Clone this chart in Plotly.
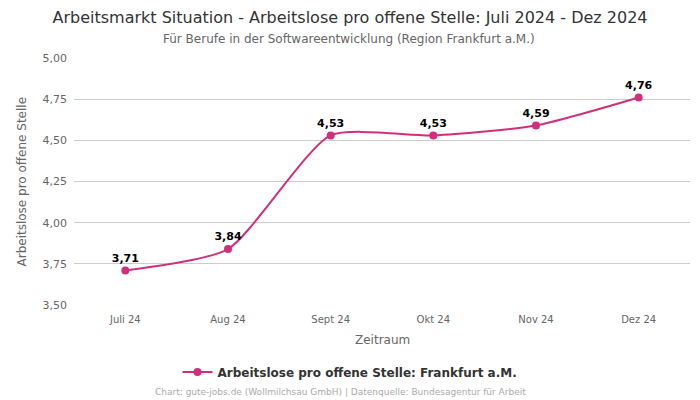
import plotly.graph_objects as go

months = ["Juli 24", "Aug 24", "Sept 24", "Okt 24", "Nov 24", "Dez 24"]
values = [3.71, 3.84, 4.53, 4.53, 4.59, 4.76]
labels = ["3,71", "3,84", "4,53", "4,53", "4,59", "4,76"]
series_name = "Arbeitslose pro offene Stelle: Frankfurt a.M."
color = "#d12e7c"

fig = go.Figure()
fig.add_trace(go.Scatter(
    x=months, y=values, name=series_name,
    mode="lines+markers+text",
    line=dict(color=color, width=2, shape="spline", smoothing=0.6),
    marker=dict(color=color, size=8),
    text=labels, textposition="top center",
    textfont=dict(family="DejaVu Sans", size=11, color="#000000", weight="bold"),
    cliponaxis=False,
))

PH = 247.0  # plot height in px
PW = 616.0  # plot width in px
PL = 74.0   # plot left in px

def px_x(px):
    return (px - PL) / PW

fig.update_layout(
    width=700, height=400,
    margin=dict(l=74, r=10, t=58, b=95, autoexpand=False),
    paper_bgcolor="white", plot_bgcolor="white",
    separators=",.",
    font=dict(family="DejaVu Sans", color="#666666", size=11),
    title=dict(
        text="Arbeitsmarkt Situation - Arbeitslose pro offene Stelle: Juli 2024 - Dez 2024",
        x=0.5, xanchor="center", y=1 - 17 / 400, yanchor="middle",
        font=dict(size=16, color="#333333"),
    ),
    xaxis=dict(
        range=[-0.5, len(months) - 0.5],
        showgrid=False, showline=False, ticks="", automargin=False,
        ticklabelstandoff=7,
        tickfont=dict(size=10, color="#666666"),
    ),
    yaxis=dict(
        range=[3.5, 5.0], dtick=0.25, tickformat=".2f", automargin=False,
        ticklabelstandoff=6,
        showgrid=True, gridcolor="#cccccc", gridwidth=1,
        zeroline=False, showline=False, ticks="",
        tickfont=dict(size=11, color="#666666"),
    ),
    showlegend=True,
    legend=dict(
        orientation="h", x=px_x(350), xanchor="center", y=-67 / PH, yanchor="middle",
        font=dict(size=12, color="#333333", weight="bold"),
    ),
    annotations=[
        dict(text="Für Berufe in der Softwareentwicklung (Region Frankfurt a.M.)",
             xref="paper", yref="paper", x=px_x(349), y=1 + (58 - 39) / PH, yanchor="middle",
             xanchor="center", showarrow=False,
             font=dict(size=12, color="#666666")),
        dict(text="Zeitraum", xref="paper", yref="paper", x=0.5, y=-35 / PH,
             xanchor="center", yanchor="middle", showarrow=False,
             font=dict(size=12, color="#666666")),
        dict(text="Arbeitslose pro offene Stelle", xref="paper", yref="paper",
             x=px_x(21), y=0.5, textangle=-90,
             xanchor="center", yanchor="middle", showarrow=False,
             font=dict(size=12, color="#666666")),
        dict(text="Chart: gute-jobs.de (Wollmilchsau GmbH) | Datenquelle: Bundesagentur für Arbeit",
             xref="paper", yref="paper", x=px_x(340), y=-87 / PH,
             xanchor="center", yanchor="middle", showarrow=False,
             font=dict(size=9, color="#aaaaaa")),
    ],
)

fig.write_html("out.html", config={"displayModeBar": False},
               post_script="document.body.style.margin='0';")
